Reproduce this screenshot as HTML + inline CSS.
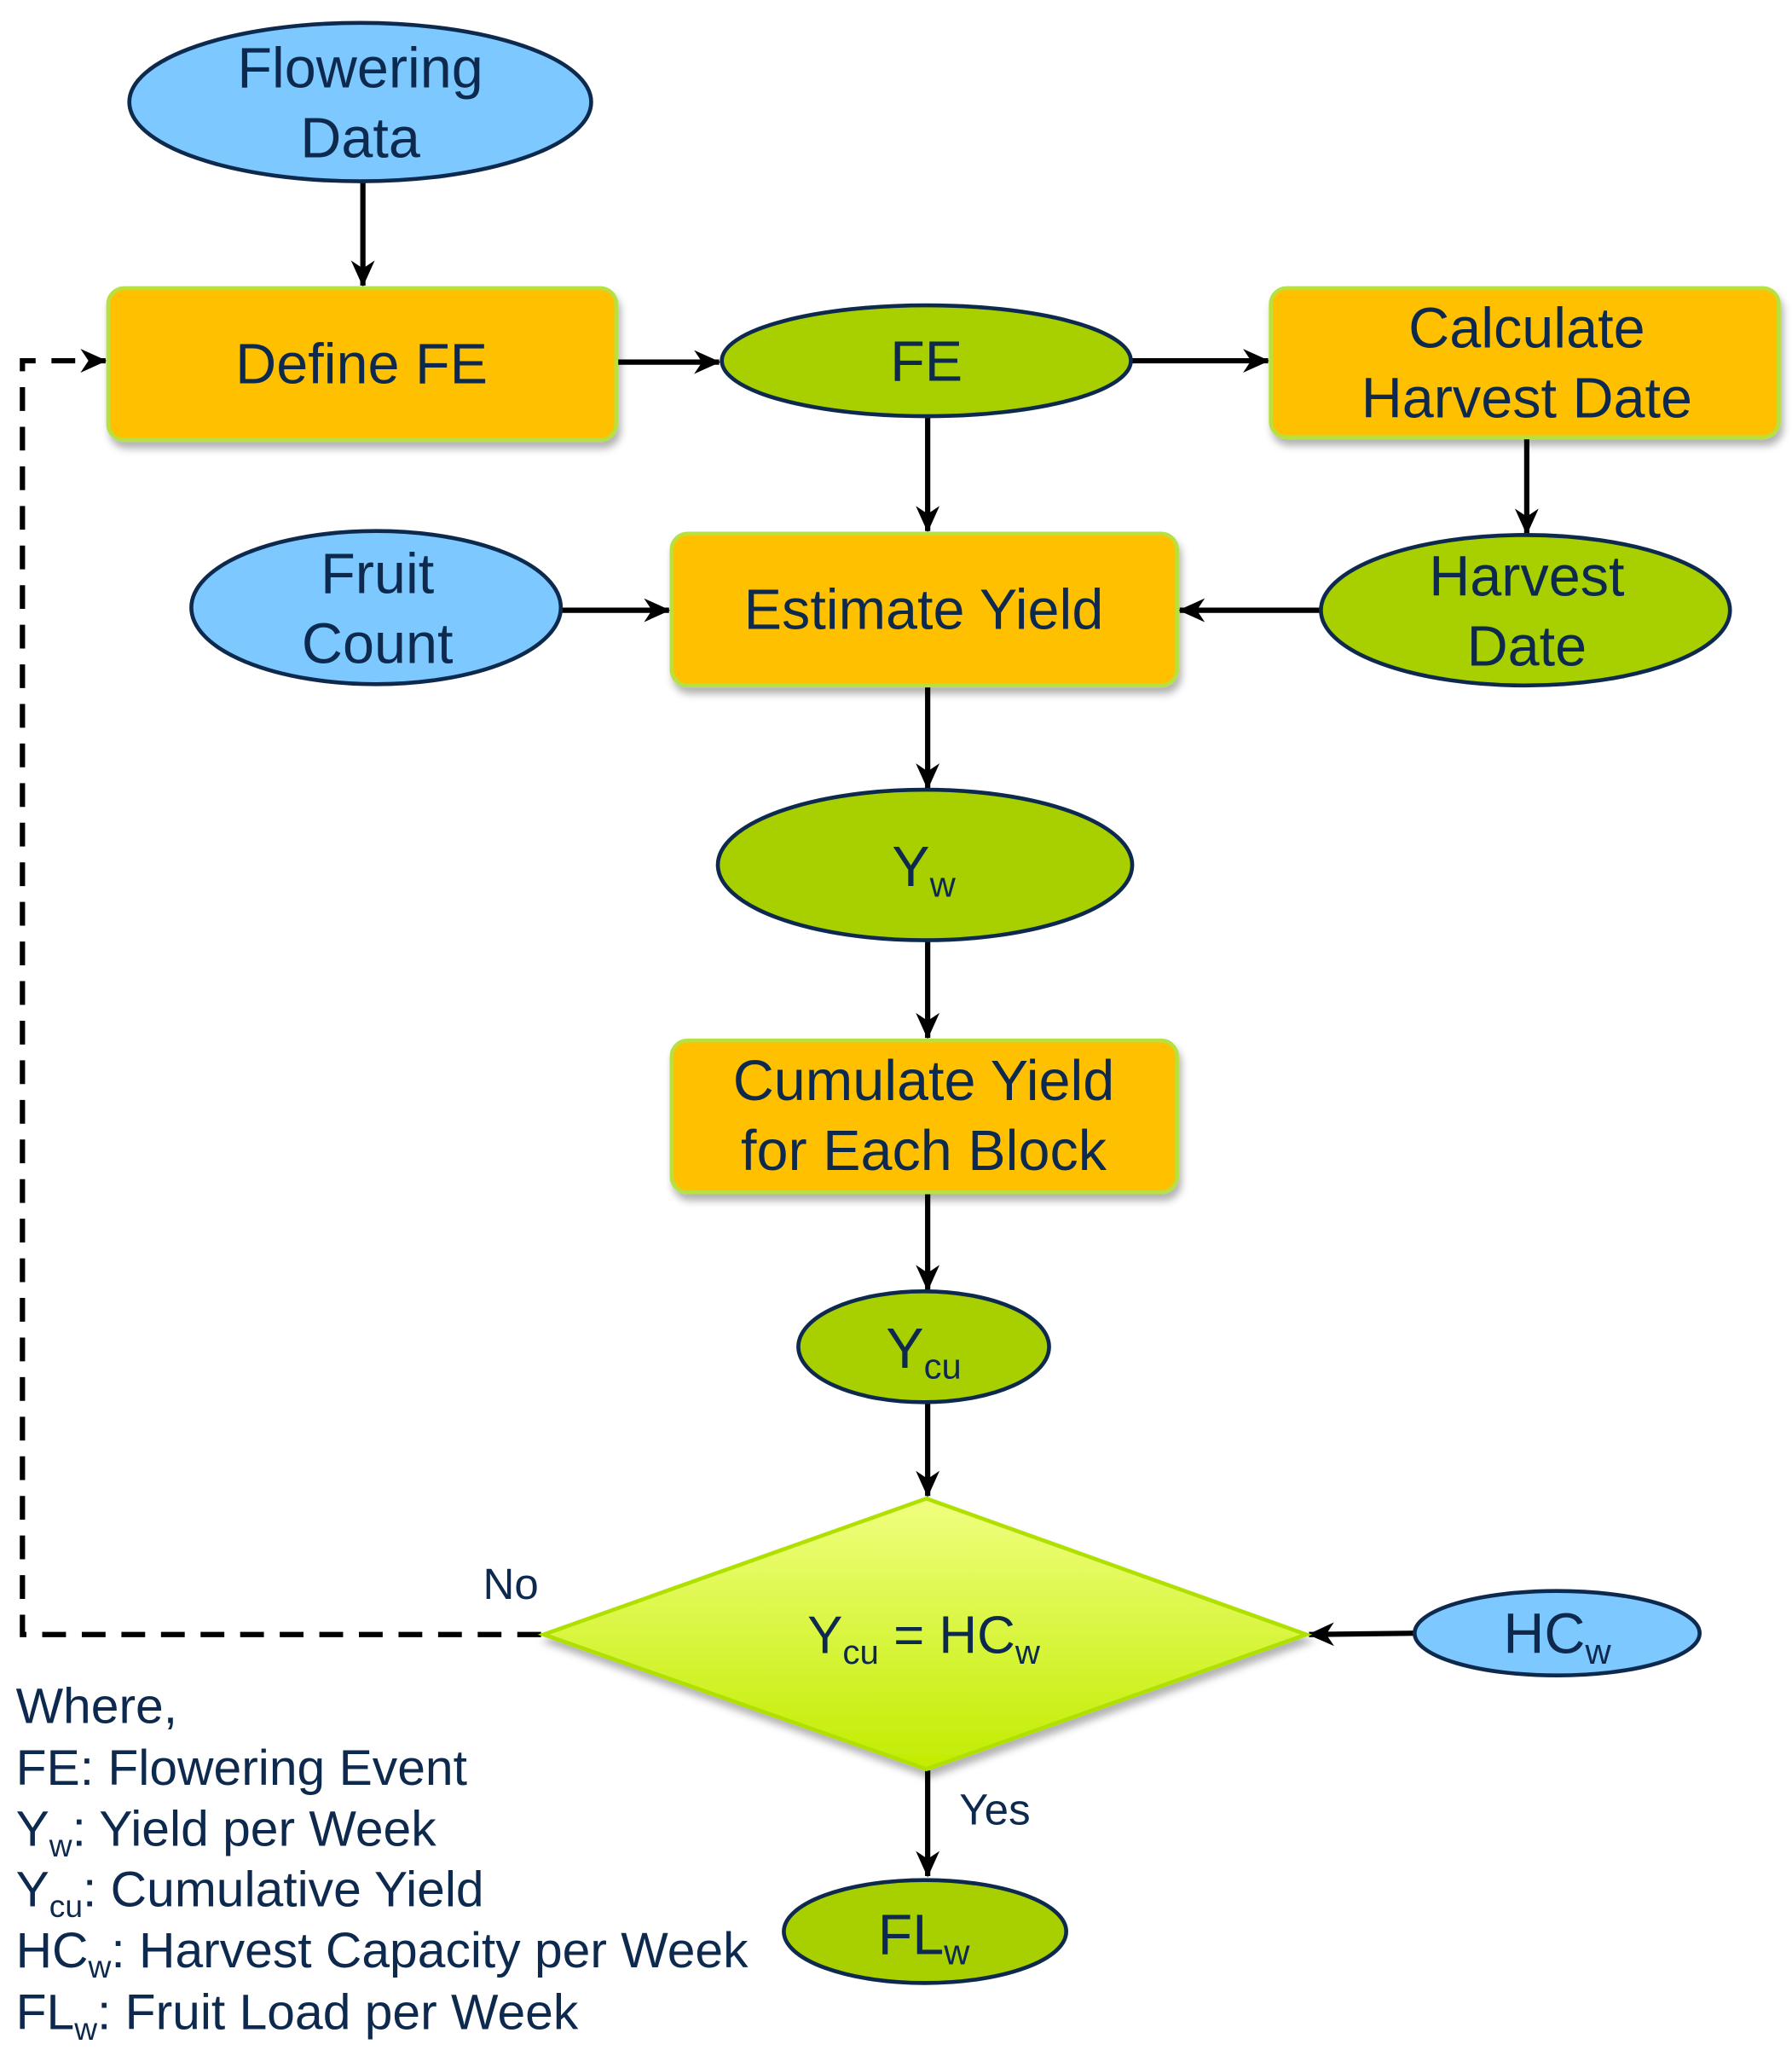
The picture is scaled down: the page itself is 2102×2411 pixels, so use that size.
<!DOCTYPE html>
<html><head><meta charset="utf-8"><style>
html,body{margin:0;padding:0;background:#fff;}
svg{display:block;}
text{font-family:"Liberation Sans",sans-serif;fill:#0d2a4e;}
</style></head><body>
<svg width="2102" height="2411" viewBox="0 0 1358 1557" xmlns="http://www.w3.org/2000/svg">
<defs>
<marker id="a" viewBox="0 0 20 20" refX="19" refY="10" markerWidth="20" markerHeight="20" markerUnits="userSpaceOnUse" orient="auto">
<path d="M0,1 L20,10 L0,19 L6,10 Z" fill="#000"/>
</marker>
<linearGradient id="dg" x1="0" y1="0" x2="0" y2="1">
<stop offset="0" stop-color="#f0ff80"/><stop offset="1" stop-color="#c2ec00"/>
</linearGradient>
<filter id="sh" x="-10%" y="-10%" width="130%" height="140%"><feDropShadow dx="2" dy="5" stdDeviation="3" flood-color="#000" flood-opacity="0.3"/></filter>
</defs>
<g stroke="#000" stroke-width="4" fill="none">
<line x1="275" y1="138" x2="275" y2="216" marker-end="url(#a)"/>
<line x1="467" y1="274" x2="545" y2="274" marker-end="url(#a)"/>
<line x1="857" y1="273" x2="961" y2="273" marker-end="url(#a)"/>
<line x1="703" y1="315" x2="703" y2="402" marker-end="url(#a)"/>
<line x1="1157" y1="332" x2="1157" y2="404" marker-end="url(#a)"/>
<line x1="425" y1="462" x2="507" y2="462" marker-end="url(#a)"/>
<line x1="1002" y1="462" x2="894" y2="462" marker-end="url(#a)"/>
<line x1="703" y1="519" x2="703" y2="597" marker-end="url(#a)"/>
<line x1="703" y1="712" x2="703" y2="786" marker-end="url(#a)"/>
<line x1="703" y1="903" x2="703" y2="977" marker-end="url(#a)"/>
<line x1="703" y1="1062" x2="703" y2="1133" marker-end="url(#a)"/>
<line x1="1072" y1="1237" x2="992" y2="1238" marker-end="url(#a)"/>
<line x1="703" y1="1341" x2="703" y2="1421" marker-end="url(#a)"/>
<path d="M410,1238 L17,1238 L17,273 L80,273" stroke-dasharray="18,12" marker-end="url(#a)"/>
</g>
<g stroke="#0d2a4e" stroke-width="3">
<ellipse cx="273" cy="77" rx="175" ry="60" fill="#7dc8ff"/>
<ellipse cx="702" cy="273" rx="155" ry="42" fill="#a8d000"/>
<ellipse cx="285" cy="460" rx="140" ry="58" fill="#7dc8ff"/>
<ellipse cx="1156" cy="462" rx="155" ry="57" fill="#a8d000"/>
<ellipse cx="701" cy="655" rx="157" ry="57" fill="#a8d000"/>
<ellipse cx="700" cy="1020" rx="95" ry="42" fill="#a8d000"/>
<ellipse cx="1180" cy="1237" rx="108" ry="32" fill="#7dc8ff"/>
<ellipse cx="701" cy="1463" rx="107" ry="39" fill="#a8d000"/>
</g>
<g fill="#ffc000" stroke="#b8e040" stroke-width="3" filter="url(#sh)">
<rect x="82" y="218" width="385" height="115" rx="12"/>
<rect x="963" y="218" width="385" height="113" rx="12"/>
<rect x="509" y="404" width="383" height="115" rx="12"/>
<rect x="509" y="788" width="383" height="115" rx="12"/>
<polygon points="702,1135 990,1238 702,1340 412,1238" fill="url(#dg)" stroke="#b0e000"/>
</g>
<g font-size="43" text-anchor="middle">
<text x="273" y="66">Flowering</text>
<text x="273" y="119">Data</text>
<text x="274" y="290">Define FE</text>
<text x="702" y="288">FE</text>
<text x="1157" y="263">Calculate</text>
<text x="1157" y="316">Harvest Date</text>
<text x="286" y="449">Fruit</text>
<text x="286" y="502">Count</text>
<text x="700" y="476">Estimate Yield</text>
<text x="1157" y="451">Harvest</text>
<text x="1157" y="504">Date</text>
<text x="700" y="833">Cumulate Yield</text>
<text x="700" y="886">for Each Block</text>
<text x="700" y="671">Y<tspan font-size="27" dy="8">w</tspan></text>
<text x="700" y="1036">Y<tspan font-size="27" dy="8">cu</tspan></text>
<text x="700" y="1480">FL<tspan font-size="27" dy="8">w</tspan></text>
<text x="1180" y="1252">HC<tspan font-size="27" dy="8">w</tspan></text>
<text x="700" y="1252" font-size="40">Y<tspan font-size="26" dy="8">cu</tspan><tspan dy="-8"> = HC</tspan><tspan font-size="26" dy="8">w</tspan></text>
</g>
<g font-size="33">
<text x="366" y="1211">No</text>
<text x="727" y="1382">Yes</text>
</g>
<g font-size="38">
<text x="12" y="1305">Where,</text>
<text x="12" y="1352">FE: Flowering  Event</text>
<text x="12" y="1398">Y<tspan font-size="24" dy="8">w</tspan><tspan dy="-8">: Yield per Week</tspan></text>
<text x="12" y="1444">Y<tspan font-size="24" dy="8">cu</tspan><tspan dy="-8">: Cumulative  Yield</tspan></text>
<text x="12" y="1490">HC<tspan font-size="24" dy="8">w</tspan><tspan dy="-8">: Harvest Capacity per Week</tspan></text>
<text x="12" y="1537">FL<tspan font-size="24" dy="8">w</tspan><tspan dy="-8">: Fruit  Load per Week</tspan></text>
</g>
</svg>
</body></html>
